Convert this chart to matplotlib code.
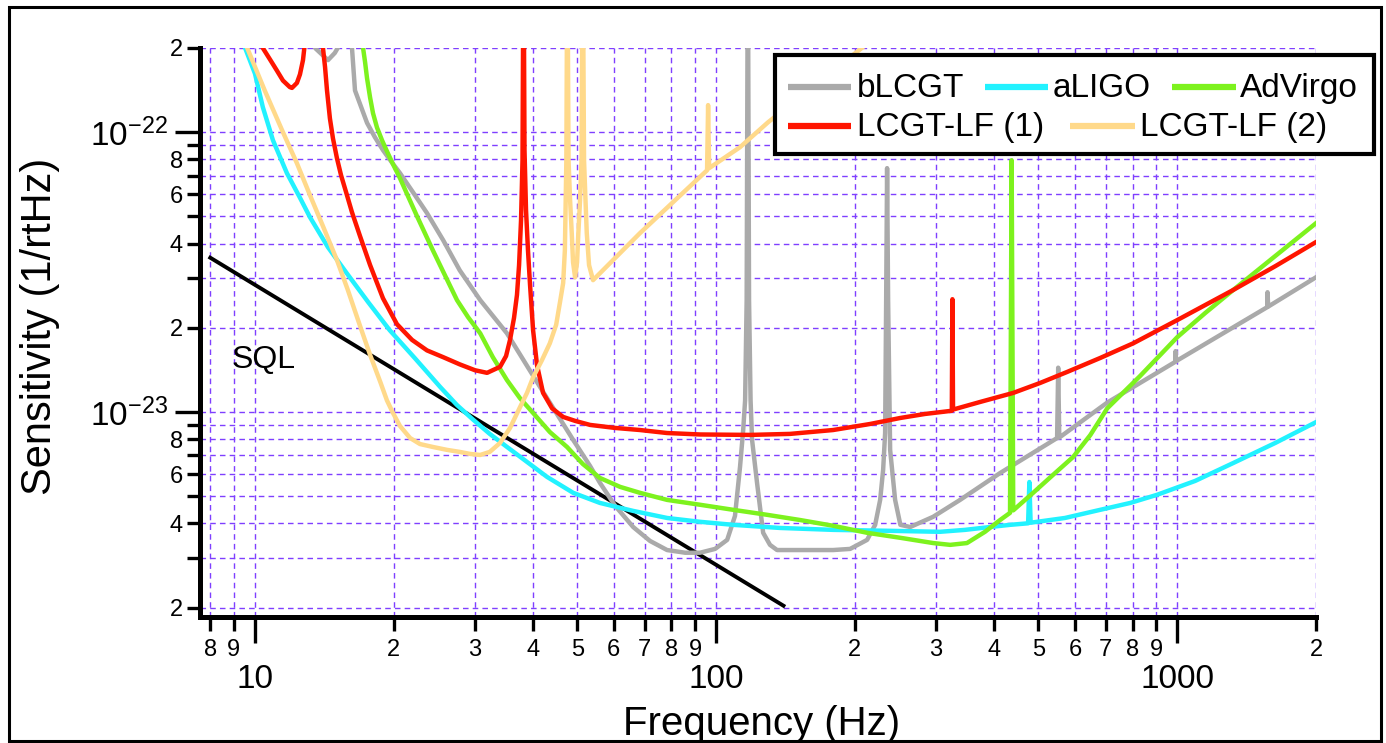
import matplotlib
matplotlib.use('Agg')
import matplotlib.pyplot as plt
from matplotlib.lines import Line2D
from matplotlib.patches import Rectangle
from matplotlib.ticker import FixedLocator, FixedFormatter

plt.rcParams['font.family'] = ['Liberation Sans', 'DejaVu Sans']
plt.rcParams['mathtext.fontset'] = 'custom'
plt.rcParams['mathtext.rm'] = 'Liberation Sans'
plt.rcParams['mathtext.it'] = 'Liberation Sans:italic'
plt.rcParams['mathtext.bf'] = 'Liberation Sans:bold'

# --- data ---
# SQL line
f_sql = [8.0, 140.0]
h_sql = [3.56e-23, 2.03e-24]

# bLCGT
f_blcgt = [13.0, 13.5, 14.4, 14.9, 15.14, 15.6, 16.23, 16.48, 17.5, 18.2, 18.95, 19.8,
           20.63, 22.0, 23.61, 25.6, 27.8, 30.8, 35.2, 41.5, 49.0, 53.3, 56.0, 60.4,
           66.1, 71.9, 78.3, 85.7, 92.3, 99.5, 105.7, 109.9, 112.7, 114.5, 115.6,
           116.5, 117.2, 117.9, 118.8, 119.7, 122.7, 126.5, 130.9, 135.6, 179.4,
           195.3, 212.6, 221.3, 226.9, 230.3, 232.6, 233.8, 234.9, 236.1, 238.5,
           244.5, 251.0, 263.6, 295.6, 338.2, 413.0, 549.0, 552.0, 555.0, 705.0,
           990.0, 992.0, 995.0, 1568.0, 1570.0, 1575.0, 2000.0]
h_blcgt = [2.6e-22, 2.0e-22, 1.81e-22, 1.92e-22, 2.01e-22, 3.0e-22, 2.01e-22, 1.41e-22,
           1.08e-22, 9.6e-23, 8.63e-23, 7.81e-23, 7.14e-23, 6.11e-23, 5.14e-23,
           4.11e-23, 3.21e-23, 2.51e-23, 1.91e-23, 1.23e-23, 7.94e-24, 6.41e-24,
           5.58e-24, 4.62e-24, 3.88e-24, 3.46e-24, 3.21e-24, 3.14e-24, 3.14e-24,
           3.24e-24, 3.49e-24, 4.25e-24, 6.36e-24, 8.62e-24, 1.1e-23, 2.51e-23,
           5.0e-22, 2.51e-23, 1.1e-23, 7.94e-24, 5.58e-24, 3.70e-24, 3.35e-24,
           3.21e-24, 3.21e-24, 3.24e-24, 3.49e-24, 3.95e-24, 4.85e-24, 6.21e-24,
           8.41e-24, 2.51e-23, 7.44e-23, 2.51e-23, 7.32e-24, 4.85e-24, 3.95e-24,
           3.88e-24, 4.22e-24, 4.85e-24, 6.05e-24, 8.07e-24, 1.44e-23, 8.1e-24,
           1.08e-23, 1.51e-23, 1.65e-23, 1.52e-23, 2.37e-23, 2.68e-23, 2.38e-23,
           3.03e-23]

# aLIGO
f_aligo = [9.3, 9.51, 10.0, 10.4, 10.94, 11.73, 12.5, 13.16, 14.4, 15.8, 17.6, 19.6,
           22.2, 25.2, 27.4, 29.7, 32.3, 35.2, 38.9, 43.0, 49.0, 56.0, 66.1, 78.3,
           92.3, 108.9, 137.7, 179.4, 238.5, 306.0, 346.8, 393.0, 434.0, 475.0,
           478.0, 481.0, 571.0, 681.0, 791.0, 905.0, 1094.0, 1323.0, 1632.0, 2000.0]
h_aligo = [2.4e-22, 2.01e-22, 1.62e-22, 1.23e-22, 9.36e-23, 7.14e-23, 5.86e-23,
           4.97e-23, 3.88e-23, 3.14e-23, 2.47e-23, 1.96e-23, 1.56e-23, 1.23e-23,
           1.06e-23, 9.4e-24, 8.35e-24, 7.5e-24, 6.63e-24, 5.86e-24, 5.14e-24,
           4.73e-24, 4.43e-24, 4.18e-24, 4.05e-24, 3.95e-24, 3.85e-24, 3.79e-24,
           3.76e-24, 3.73e-24, 3.79e-24, 3.88e-24, 3.95e-24, 4.0e-24, 5.62e-24,
           4.02e-24, 4.18e-24, 4.47e-24, 4.73e-24, 5.06e-24, 5.67e-24, 6.57e-24,
           7.75e-24, 9.2e-24]

# AdVirgo
f_advirgo = [17.0, 17.15, 17.33, 17.5, 17.77, 18.03, 18.39, 18.86, 19.33, 19.92,
             20.63, 21.47, 22.46, 24.3, 25.8, 27.43, 29.0, 30.8, 32.8, 35.2, 37.56,
             40.1, 43.6, 47.5, 51.4, 56.0, 61.9, 68.4, 78.3, 92.3, 108.9, 129.0,
             152.1, 179.4, 212.6, 251.0, 295.6, 321.9, 350.0, 383.0, 413.0, 434.0,
             437.5, 441.0, 487.0, 538.0, 595.0, 648.0, 705.0, 831.0, 1000.0, 1151.0,
             1323.0, 1632.0, 2000.0]
h_advirgo = [2.3e-22, 2.01e-22, 1.78e-22, 1.56e-22, 1.33e-22, 1.17e-22, 1.04e-22,
             9.36e-23, 8.55e-23, 7.69e-23, 6.85e-23, 5.91e-23, 5.01e-23, 3.79e-23,
             3.09e-23, 2.51e-23, 2.18e-23, 1.91e-23, 1.57e-23, 1.30e-23, 1.12e-23,
             9.92e-24, 8.48e-24, 7.5e-24, 6.52e-24, 5.81e-24, 5.40e-24, 5.14e-24,
             4.85e-24, 4.66e-24, 4.47e-24, 4.29e-24, 4.11e-24, 3.92e-24, 3.70e-24,
             3.55e-24, 3.40e-24, 3.35e-24, 3.40e-24, 3.73e-24, 4.11e-24, 4.36e-24,
             7.94e-23, 4.45e-24, 5.14e-24, 5.96e-24, 6.91e-24, 8.27e-24, 1.03e-23,
             1.345e-23, 1.85e-23, 2.26e-23, 2.73e-23, 3.61e-23, 4.73e-23]

# LCGT-LF (1)
f_lf1 = [10.0, 10.4, 10.78, 11.16, 11.5, 11.9, 12.03, 12.33, 12.52, 12.71, 12.8, 13.4,
         14.04, 14.19, 14.33, 14.54, 14.76, 15.06, 15.37, 15.76, 16.23, 16.9, 17.77,
         18.95, 20.32, 21.91, 23.61, 25.6, 27.8, 30.0, 31.87, 34.0, 35.04, 35.74,
         36.46, 37.0, 37.39, 37.76, 38.04, 38.23, 38.42, 38.71, 39.09, 39.5, 40.1,
         40.9, 42.15, 44.1, 46.6, 49.5, 53.3, 60.4, 68.4, 78.3, 92.3, 118.5, 144.7,
         179.4, 215.8, 251.0, 284.0, 324.5, 325.5, 326.5, 373.8, 441.0, 504.5, 577.0,
         681.0, 803.0, 1000.0, 1323.0, 1632.0, 2000.0]
h_lf1 = [2.6e-22, 2.0e-22, 1.82e-22, 1.66e-22, 1.53e-22, 1.45e-22, 1.44e-22, 1.50e-22,
         1.61e-22, 1.81e-22, 2.01e-22, 3.5e-22, 2.01e-22, 1.71e-22, 1.41e-22, 1.12e-22,
         9.52e-23, 8.07e-23, 7.02e-23, 6.11e-23, 5.18e-23, 4.25e-23, 3.35e-23,
         2.55e-23, 2.06e-23, 1.81e-23, 1.66e-23, 1.57e-23, 1.48e-23, 1.41e-23,
         1.38e-23, 1.45e-23, 1.585e-23, 1.81e-23, 2.17e-23, 2.62e-23, 3.35e-23,
         4.85e-23, 7.94e-23, 5.0e-22, 8.63e-23, 5.27e-23, 3.79e-23, 2.84e-23,
         1.96e-23, 1.47e-23, 1.17e-23, 1.03e-23, 9.6e-24, 9.29e-24, 8.99e-24,
         8.77e-24, 8.62e-24, 8.41e-24, 8.31e-24, 8.28e-24, 8.35e-24, 8.62e-24,
         9.06e-24, 9.52e-24, 9.84e-24, 1.01e-23, 2.53e-23, 1.02e-23, 1.086e-23,
         1.17e-23, 1.27e-23, 1.39e-23, 1.56e-23, 1.76e-23, 2.13e-23, 2.73e-23,
         3.32e-23, 4.05e-23]

# LCGT-LF (2)
f_lf2 = [9.4, 9.61, 10.5, 11.5, 12.33, 13.16, 14.04, 15.06, 15.9, 16.9, 17.77, 18.7,
         19.33, 19.92, 20.63, 21.7, 22.8, 24.3, 26.1, 27.8, 29.3, 30.8, 32.3, 34.0,
         35.74, 37.56, 38.9, 40.1, 41.9, 43.6, 45.0, 45.87, 46.6, 47.0, 47.35, 47.58,
         47.87, 48.24, 48.64, 48.96, 49.46, 49.95, 50.27, 50.7, 51.08, 51.38, 51.72,
         52.1, 52.43, 53.03, 54.1, 68.4, 95.6, 96.1, 96.6, 112.7, 129.7, 207.0, 230.0]
h_lf2 = [2.3e-22, 2.01e-22, 1.41e-22, 1.0e-22, 7.75e-23, 5.96e-23, 4.62e-23, 3.49e-23,
         2.73e-23, 2.03e-23, 1.6e-23, 1.28e-23, 1.10e-23, 9.92e-24, 8.91e-24,
         8.07e-24, 7.68e-24, 7.5e-24, 7.32e-24, 7.2e-24, 7.08e-24, 7.02e-24, 7.2e-24,
         7.75e-24, 8.77e-24, 1.04e-23, 1.17e-23, 1.33e-23, 1.53e-23, 1.76e-23,
         2.05e-23, 2.47e-23, 2.89e-23, 3.79e-23, 7.94e-23, 5.0e-22, 7.94e-23,
         5.71e-23, 4.36e-23, 3.43e-23, 3.03e-23, 3.43e-23, 4.36e-23, 5.71e-23,
         7.94e-23, 5.0e-22, 7.94e-23, 5.71e-23, 4.36e-23, 3.35e-23, 2.96e-23,
         4.36e-23, 7.31e-23, 1.25e-22, 7.44e-23, 8.84e-23, 1.086e-22, 2.0e-22, 2.3e-22]

# ticks
x_major = [10, 100, 1000]
x_major_labels = ['10', '100', '1000']
x_minor = [8, 9, 20, 30, 40, 50, 60, 70, 80, 90, 200, 300, 400, 500, 600, 700, 800, 900, 2000]
x_minor_labels = ['8', '9', '2', '3', '4', '5', '6', '7', '8', '9',
                  '2', '3', '4', '5', '6', '7', '8', '9', '2']
y_major = [1e-23, 1e-22]
y_major_labels = [r'$\mathregular{10^{-23}}$', r'$\mathregular{10^{-22}}$']
y_minor = [2e-24, 3e-24, 4e-24, 5e-24, 6e-24, 7e-24, 8e-24, 9e-24,
           2e-23, 3e-23, 4e-23, 5e-23, 6e-23, 7e-23, 8e-23, 9e-23, 2e-22]
y_minor_labels = ['2', '', '4', '', '6', '', '8', '',
                  '2', '', '4', '', '6', '', '8', '', '2']

names = ['bLCGT', 'aLIGO', 'AdVirgo', 'LCGT-LF (1)', 'LCGT-LF (2)']
colors = ['#aaaaaa', '#22f2ff', '#7df21e', '#ff1500', '#ffd98a']

W, H = 1386, 743
fig = plt.figure(figsize=(W / 100, H / 100), dpi=100)
ax = fig.add_axes([200 / W, 1 - 617 / H, 1116 / W, 569 / H])
ax.set_xscale('log')
ax.set_yscale('log')

lw = 3.2
ax.plot(f_sql, h_sql, color='black', lw=2.8, zorder=3)
ax.plot(f_blcgt, h_blcgt, color=colors[0], lw=lw, zorder=3)
ax.plot(f_aligo, h_aligo, color=colors[1], lw=lw, zorder=3)
ax.plot(f_advirgo, h_advirgo, color=colors[2], lw=lw, zorder=3)
ax.plot(f_lf1, h_lf1, color=colors[3], lw=lw, zorder=3)
ax.plot(f_lf2, h_lf2, color=colors[4], lw=lw, zorder=3)

ax.set_xlim(7.6, 2000)
ax.set_ylim(1.85e-24, 2e-22)

ax.xaxis.set_major_locator(FixedLocator(x_major))
ax.xaxis.set_major_formatter(FixedFormatter(x_major_labels))
ax.xaxis.set_minor_locator(FixedLocator(x_minor))
ax.xaxis.set_minor_formatter(FixedFormatter(x_minor_labels))
ax.yaxis.set_major_locator(FixedLocator(y_major))
ax.yaxis.set_major_formatter(FixedFormatter(y_major_labels))
ax.yaxis.set_minor_locator(FixedLocator(y_minor))
ax.yaxis.set_minor_formatter(FixedFormatter(y_minor_labels))

ax.tick_params(which='both', direction='out', width=2.4, color='black')
ax.tick_params(axis='x', which='major', length=19, pad=15, labelsize=24)
ax.tick_params(axis='x', which='minor', length=10, pad=6, labelsize=17)
ax.tick_params(axis='y', which='major', length=18, pad=5, labelsize=24)
ax.tick_params(axis='y', which='minor', length=9.5, pad=3, labelsize=17)

ax.grid(which='both', color='#7f3fff', linestyle=(0, (4, 3)), linewidth=1.0, zorder=1)
ax.set_axisbelow(True)

for s in ['top', 'right']:
    ax.spines[s].set_visible(False)
for s in ['left', 'bottom']:
    ax.spines[s].set_linewidth(3.6)

ax.text(8.9, 1.53e-23, 'SQL', fontsize=23, ha='left', va='center', zorder=4)

fig.text(762 / W, 1 - 735 / H, 'Frequency (Hz)', fontsize=29, ha='center', va='baseline')
fig.text(40 / W, 1 - 326 / H, 'Sensitivity (1/rtHz)', fontsize=30, rotation=90,
         ha='center', va='center')

# legend box
fig.add_artist(Rectangle((775 / W, 1 - 154 / H), (1374 - 775) / W, (154 - 55) / H,
                         transform=fig.transFigure, facecolor='white',
                         edgecolor='black', lw=3, zorder=5))
rows = [(87, 97), (126, 136)]
entries = [(0, 0, 788, 851, 857), (1, 0, 985, 1048, 1053), (2, 0, 1172, 1236, 1240),
           (3, 1, 788, 851, 857), (4, 1, 1070, 1135, 1140)]
for i, r, x0, x1, xt in entries:
    yl, yb = rows[r]
    fig.add_artist(Line2D([x0 / W, x1 / W], [1 - yl / H, 1 - yl / H],
                          transform=fig.transFigure, color=colors[i], lw=4.5,
                          solid_capstyle='butt', zorder=6))
    fig.text(xt / W, 1 - yb / H, names[i], fontsize=24, ha='left', va='baseline',
             zorder=6)

# outer frame
fig.add_artist(Rectangle((9 / W, 1 - 741 / H), (1381 - 9) / W, (741 - 7) / H,
                         transform=fig.transFigure, fill=False,
                         edgecolor='black', lw=2.2, zorder=7))

fig.savefig('out.png', dpi=100)
